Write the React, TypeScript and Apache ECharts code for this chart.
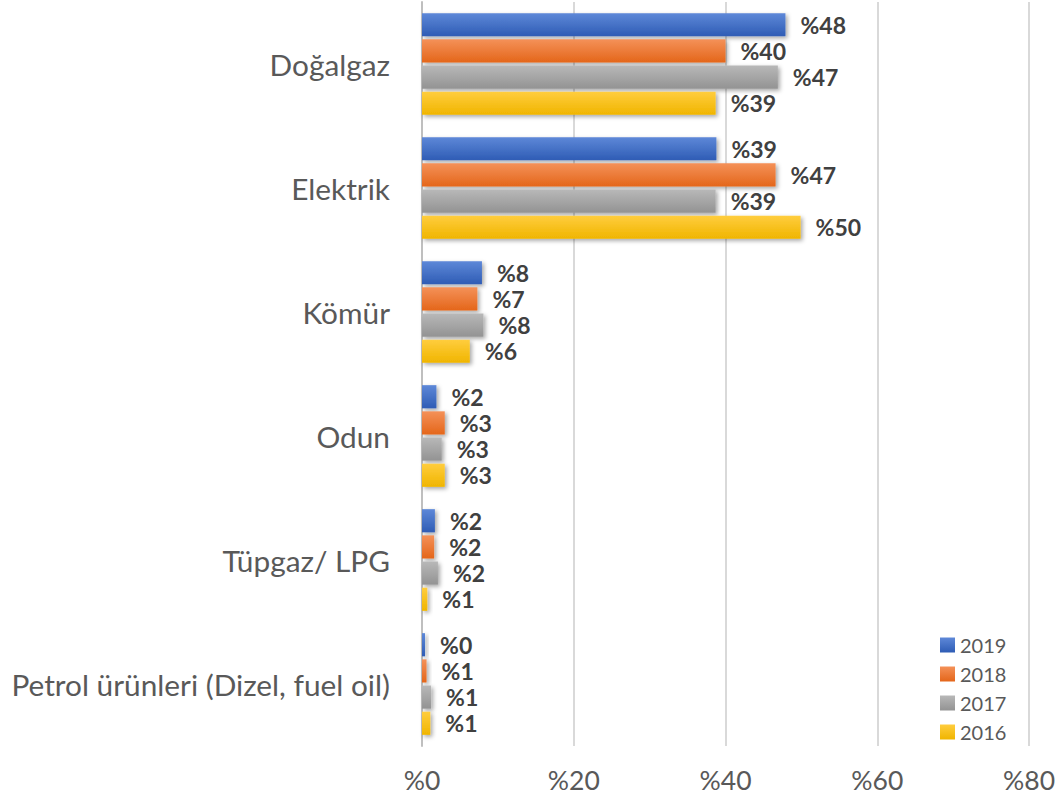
import React, { useEffect, useRef } from "react";
import * as echarts from "echarts";

const categories = [
  "Doğalgaz",
  "Elektrik",
  "Kömür",
  "Odun",
  "Tüpgaz/ LPG",
  "Petrol ürünleri (Dizel, fuel oil)",
];
const seriesNames = ["2019", "2018", "2017", "2016"];
const values2019 = [47.9, 38.8, 7.9, 1.9, 1.7, 0.4];
const values2018 = [40.0, 46.6, 7.3, 3.0, 1.6, 0.6];
const values2017 = [46.9, 38.7, 8.1, 2.6, 2.1, 1.2];
const values2016 = [38.7, 49.9, 6.3, 3.0, 0.7, 1.1];
const xTicks = [0, 20, 40, 60, 80];

const palette = [
  ["#5E88D8", "#2E5CB5"],
  ["#F49158", "#E4661A"],
  ["#B8B8B8", "#939393"],
  ["#FFCD3E", "#F0B500"],
];

export default function App() {
  const ref = useRef<HTMLDivElement>(null);
  useEffect(() => {
    document.body.style.margin = "0";
    if (!ref.current) return;
    const chart = echarts.init(ref.current, undefined, { renderer: "svg" });
    const data = [values2019, values2018, values2017, values2016];
    const font = "Lato, 'Open Sans', sans-serif";
    chart.setOption({
      animation: false,
      textStyle: { fontFamily: font },
      grid: { left: 422, right: 25, top: 2, bottom: 55, containLabel: false },
      legend: {
        orient: "vertical",
        left: 935,
        top: 630,
        itemWidth: 15,
        itemHeight: 15,
        itemGap: 9,
        icon: "rect",
        textStyle: { fontSize: 20, color: "#595959", fontFamily: font },
        data: seriesNames,
      },
      xAxis: {
        type: "value",
        min: xTicks[0],
        max: xTicks[xTicks.length - 1],
        interval: 20,
        axisLine: { show: false },
        axisTick: { show: false },
        splitLine: { lineStyle: { color: "#D9D9D9", width: 2 } },
        axisLabel: {
          fontSize: 26.5,
          color: "#595959",
          margin: 20,
          fontFamily: font,
          formatter: (v: number) => "%" + v,
        },
      },
      yAxis: {
        type: "category",
        inverse: true,
        data: categories,
        axisLine: { lineStyle: { color: "#BFBFBF", width: 2 } },
        axisTick: { show: false },
        axisLabel: { fontSize: 29.8, color: "#595959", margin: 32, fontFamily: font },
      },
      series: seriesNames.map((name, i) => ({
        name,
        type: "bar",
        data: data[i],
        barCategoryGap: "18%",
        barGap: "13%",
        itemStyle: {
          color: new echarts.graphic.LinearGradient(0, 0, 0, 1, [
            { offset: 0, color: palette[i][0] },
            { offset: 1, color: palette[i][1] },
          ]),
          shadowBlur: 4,
          shadowColor: "rgba(0,0,0,0.35)",
          shadowOffsetX: 2,
          shadowOffsetY: 2,
        },
        label: {
          show: true,
          position: "right",
          distance: 15,
          fontSize: 23,
          fontWeight: "bold",
          color: "#404040",
          fontFamily: font,
          formatter: (p: any) => "%" + Math.round(p.value),
        },
      })),
    });
    return () => chart.dispose();
  }, []);
  return <div ref={ref} style={{ width: 1058, height: 801 }} />;
}
